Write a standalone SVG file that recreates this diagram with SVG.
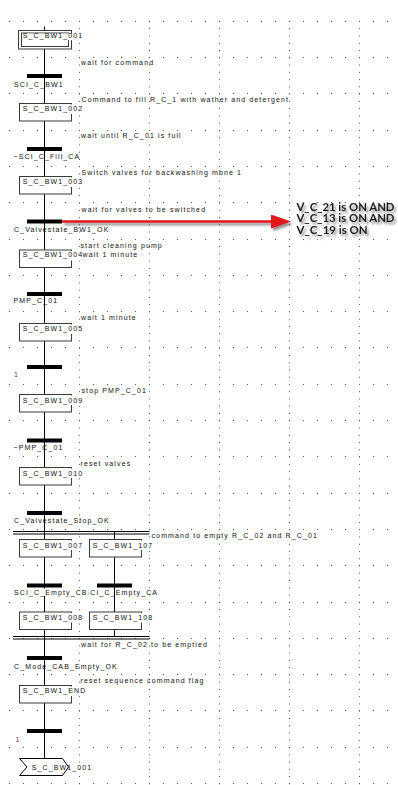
<svg xmlns="http://www.w3.org/2000/svg" width="398" height="785" viewBox="0 0 398 785">
  <style>
    .gh { stroke:#5a5a5a; stroke-width:1; stroke-dasharray:1 13; }
    .gv { stroke:#5a5a5a; stroke-width:1; stroke-dasharray:1 6.26; }
    .box { fill:#fff; stroke:#3a3a3a; stroke-width:1; }
    .bg { fill:#fff; }
    .bar { fill:#000; }
    .wire { stroke:#000; stroke-width:1; fill:none; }
    text { font-family:"Liberation Sans", Arial, sans-serif; font-size:7px; letter-spacing:1.12px; fill:#111; }
    .num { fill:#7d1f7d; }
    .note { font-family:Lato, "Liberation Sans", sans-serif; font-size:11.5px; font-weight:bold; letter-spacing:0; fill:#1e1e1e; }
  </style>
  <defs>
    <filter id="shadow" filterUnits="userSpaceOnUse" x="40" y="190" width="358" height="60">
      <feDropShadow dx="2" dy="2.5" stdDeviation="1.3" flood-color="#000" flood-opacity="0.45"/>
    </filter>
    <marker id="redHead" viewBox="0 0 20 14" refX="0" refY="7" markerWidth="20" markerHeight="14" markerUnits="userSpaceOnUse" orient="auto">
      <path d="M0,0 L20,7 L0,14 Z" fill="#e3141c"/>
    </marker>
  </defs>
  <rect width="398" height="785" fill="#fff"/>

  <!-- dotted editor grid -->
  <g id="grid">
    <line class="gh" x1="9" x2="398" y1="21.5" y2="21.5"/>
    <line class="gh" x1="9" x2="398" y1="57.5" y2="57.5"/>
    <line class="gh" x1="9" x2="398" y1="93.5" y2="93.5"/>
    <line class="gh" x1="9" x2="398" y1="130.5" y2="130.5"/>
    <line class="gh" x1="9" x2="398" y1="166.5" y2="166.5"/>
    <line class="gh" x1="9" x2="398" y1="202.5" y2="202.5"/>
    <line class="gh" x1="9" x2="398" y1="239.5" y2="239.5"/>
    <line class="gh" x1="9" x2="398" y1="275.5" y2="275.5"/>
    <line class="gh" x1="9" x2="398" y1="311.5" y2="311.5"/>
    <line class="gh" x1="9" x2="398" y1="347.5" y2="347.5"/>
    <line class="gh" x1="9" x2="398" y1="384.5" y2="384.5"/>
    <line class="gh" x1="9" x2="398" y1="420.5" y2="420.5"/>
    <line class="gh" x1="9" x2="398" y1="456.5" y2="456.5"/>
    <line class="gh" x1="9" x2="398" y1="493.5" y2="493.5"/>
    <line class="gh" x1="9" x2="398" y1="529.5" y2="529.5"/>
    <line class="gh" x1="9" x2="398" y1="565.5" y2="565.5"/>
    <line class="gh" x1="9" x2="398" y1="602.5" y2="602.5"/>
    <line class="gh" x1="9" x2="398" y1="638.5" y2="638.5"/>
    <line class="gh" x1="9" x2="398" y1="674.5" y2="674.5"/>
    <line class="gh" x1="9" x2="398" y1="710.5" y2="710.5"/>
    <line class="gh" x1="9" x2="398" y1="747.5" y2="747.5"/>
    <line class="gh" x1="9" x2="398" y1="783.5" y2="783.5"/>
    <line class="gv" x1="79.5" x2="79.5" y1="21" y2="785"/>
    <line class="gv" x1="149.5" x2="149.5" y1="21" y2="785"/>
    <line class="gv" x1="219.5" x2="219.5" y1="21" y2="785"/>
    <line class="gv" x1="289.5" x2="289.5" y1="21" y2="785"/>
    <line class="gv" x1="359.5" x2="359.5" y1="21" y2="785"/>
  </g>

  <!-- step / transition comments -->
  <g id="comments">
    <text x="81" y="65">wait for command</text>
    <text x="81.5" y="101.8">Command to fill R_C_1 with wather and detergent</text>
    <text x="81" y="137.5">wait until R_C_01 is full</text>
    <text x="81.5" y="174.8">Switch valves for backwashing mbne 1</text>
    <text x="81.5" y="211.5">wait for valves to be switched</text>
    <text x="80.5" y="247.5">start cleaning pump</text>
    <text x="82.5" y="256.8">wait 1 minute</text>
    <text x="81" y="320.2">wait 1 minute</text>
    <text x="81.5" y="393.2">stop PMP_C_01</text>
    <text x="80.5" y="465.8">reset valves</text>
    <text x="151.5" y="537.5">command to empty R_C_02 and R_C_01</text>
    <text x="81" y="646.8">wait for R_C_02 to be emptied</text>
    <text x="80.5" y="682.5">reset sequence command flag</text>
  </g>

  <!-- links between steps and transitions -->
  <g id="connectors">
    <line class="wire" x1="44.5" y1="26.5" x2="44.5" y2="758.5"/>
    <line class="wire" x1="114.5" y1="532" x2="114.5" y2="636.5"/>
    <!-- parallel branch open / close -->
    <line class="wire" x1="13" y1="531.5" x2="149.5" y2="531.5"/>
    <line class="wire" x1="13" y1="534" x2="149.5" y2="534"/>
    <line class="wire" x1="13" y1="636.5" x2="149.5" y2="636.5"/>
    <line class="wire" x1="13" y1="639" x2="149.5" y2="639"/>
  </g>

  <!-- steps -->
  <g id="S_C_BW1_001">
    <rect class="box" x="18.5" y="30.5" width="53" height="18.5"/>
    <rect class="box" x="21.5" y="33" width="47" height="13.5"/>
    <rect class="bg" x="22" y="33.6" width="60.5" height="6.6"/>
    <text x="22.7" y="38">S_C_BW1_001</text>
  </g>
  <g id="S_C_BW1_002" transform="translate(0,103.5)">
    <rect class="box" x="19.5" y="0" width="52" height="17.5"/>
    <rect class="bg" x="21" y="1" width="61.5" height="9.5"/>
    <text x="22.7" y="7.8">S_C_BW1_002</text>
  </g>
  <g id="S_C_BW1_003" transform="translate(0,176.5)">
    <rect class="box" x="19.5" y="0" width="52" height="17.5"/>
    <rect class="bg" x="21" y="1" width="61.5" height="9.5"/>
    <text x="22.7" y="7.8">S_C_BW1_003</text>
  </g>
  <g id="S_C_BW1_004" transform="translate(0,250)">
    <rect class="box" x="19.5" y="0" width="52" height="17.5"/>
    <rect class="bg" x="21" y="1" width="61" height="9.5"/>
    <text x="22.7" y="7.3">S_C_BW1_004</text>
  </g>
  <g id="S_C_BW1_005" transform="translate(0,323.5)">
    <rect class="box" x="19.5" y="0" width="52" height="17.5"/>
    <rect class="bg" x="21" y="1" width="61.5" height="9.5"/>
    <text x="22.7" y="7">S_C_BW1_005</text>
  </g>
  <g id="S_C_BW1_009" transform="translate(0,394.5)">
    <rect class="box" x="19.5" y="0" width="52" height="17.5"/>
    <rect class="bg" x="21" y="1" width="61.5" height="9.5"/>
    <text x="22.7" y="8">S_C_BW1_009</text>
  </g>
  <g id="S_C_BW1_010" transform="translate(0,467.5)">
    <rect class="box" x="19.5" y="0" width="52" height="17.5"/>
    <rect class="bg" x="21" y="1" width="61.5" height="9.5"/>
    <text x="22.7" y="8.2">S_C_BW1_010</text>
  </g>
  <g id="S_C_BW1_007" transform="translate(0,539.5)">
    <rect class="box" x="19.5" y="0" width="52" height="17.5"/>
    <rect class="bg" x="21" y="1" width="61.5" height="9.5"/>
    <text x="22.7" y="8">S_C_BW1_007</text>
  </g>
  <g id="S_C_BW1_107" transform="translate(70,539.5)">
    <rect class="box" x="19.5" y="0" width="52" height="17.5"/>
    <rect class="bg" x="21" y="1" width="61.5" height="9.5"/>
    <text x="22.7" y="8">S_C_BW1_107</text>
  </g>
  <g id="S_C_BW1_008" transform="translate(0,612)">
    <rect class="box" x="19.5" y="0" width="52" height="17.5"/>
    <rect class="bg" x="21" y="1" width="61.5" height="9.5"/>
    <text x="22.7" y="8">S_C_BW1_008</text>
  </g>
  <g id="S_C_BW1_108" transform="translate(70,612)">
    <rect class="box" x="19.5" y="0" width="52" height="17.5"/>
    <rect class="bg" x="21" y="1" width="61.5" height="9.5"/>
    <text x="22.7" y="8">S_C_BW1_108</text>
  </g>
  <g id="S_C_BW1_END" transform="translate(0,685.5)">
    <rect class="box" x="19.5" y="0" width="52" height="17.5"/>
    <rect class="bg" x="21" y="1" width="61.5" height="9.5"/>
    <text x="22.7" y="7.8">S_C_BW1_END</text>
  </g>

  <!-- transitions -->
  <g id="T_SCI_C_BW1">
    <rect class="bar" x="27" y="74" width="35" height="4"/>
    <text x="14" y="86.5">SCI_C_BW1</text>
  </g>
  <g id="T_SCI_C_Fill_CA">
    <rect class="bar" x="27" y="147" width="35" height="4"/>
    <text x="13.5" y="158.5">~SCI_C_Fill_CA</text>
  </g>
  <g id="T_C_Valvestate_BW1_OK">
    <rect class="bar" x="27" y="219.5" width="35" height="4"/>
    <text x="14" y="231.5">C_Valvestate_BW1_OK</text>
  </g>
  <g id="T_PMP_C_01">
    <rect class="bar" x="27" y="292" width="35" height="4"/>
    <text x="13.5" y="302.5">PMP_C_01</text>
  </g>
  <g id="T_true_1">
    <rect class="bar" x="27" y="365" width="35" height="4"/>
    <text class="num" x="14" y="376.5">1</text>
  </g>
  <g id="T_not_PMP_C_01">
    <rect class="bar" x="27" y="438.5" width="35" height="4"/>
    <text x="13.5" y="449.8">~PMP_C_01</text>
  </g>
  <g id="T_C_Valvestate_Stop_OK">
    <rect class="bar" x="27" y="511" width="35" height="4"/>
    <text x="14" y="522.5">C_Valvestate_Stop_OK</text>
  </g>
  <g id="T_SCI_C_Empty_CA">
    <rect class="bar" x="97" y="583.5" width="35" height="4"/>
    <text x="84.5" y="594.8">SCI_C_Empty_CA</text>
  </g>
  <g id="T_SCI_C_Empty_CB">
    <rect class="bar" x="27" y="583.5" width="35" height="4"/>
    <rect class="bg" x="13" y="588.5" width="75.5" height="7.5"/>
    <text x="14" y="594.8">SCI_C_Empty_CB</text>
  </g>
  <g id="T_C_Mode_CAB_Empty_OK">
    <rect class="bar" x="27" y="656" width="35" height="4"/>
    <text x="14" y="668.5">C_Mode_CAB_Empty_OK</text>
  </g>
  <g id="T_true_2">
    <rect class="bar" x="27" y="729" width="35" height="4"/>
    <text class="num" x="15.5" y="741.5">1</text>
  </g>

  <!-- jump back to the initial step -->
  <g id="J_S_C_BW1_001">
    <text x="31.7" y="770">S_C_BW1_001</text>
    <path class="wire" d="M19.5,758.5 H62.5 L68.5,767 L62.5,775.5 H19.5 L27,767 Z" stroke="#3a3a3a"/>
  </g>

  <!-- callout -->
  <g id="valve_condition" filter="url(#shadow)">
    <line x1="62" y1="221.5" x2="271" y2="221.5" stroke="#e3141c" stroke-width="2.5" marker-end="url(#redHead)"/>
    <text class="note" x="296.5" y="210.5" textLength="98" lengthAdjust="spacingAndGlyphs">V_C_21 is ON AND</text>
    <text class="note" x="296.5" y="222.2" textLength="98" lengthAdjust="spacingAndGlyphs">V_C_13 is ON AND</text>
    <text class="note" x="296.5" y="233.9" textLength="71" lengthAdjust="spacingAndGlyphs">V_C_19 is ON</text>
  </g>
</svg>
